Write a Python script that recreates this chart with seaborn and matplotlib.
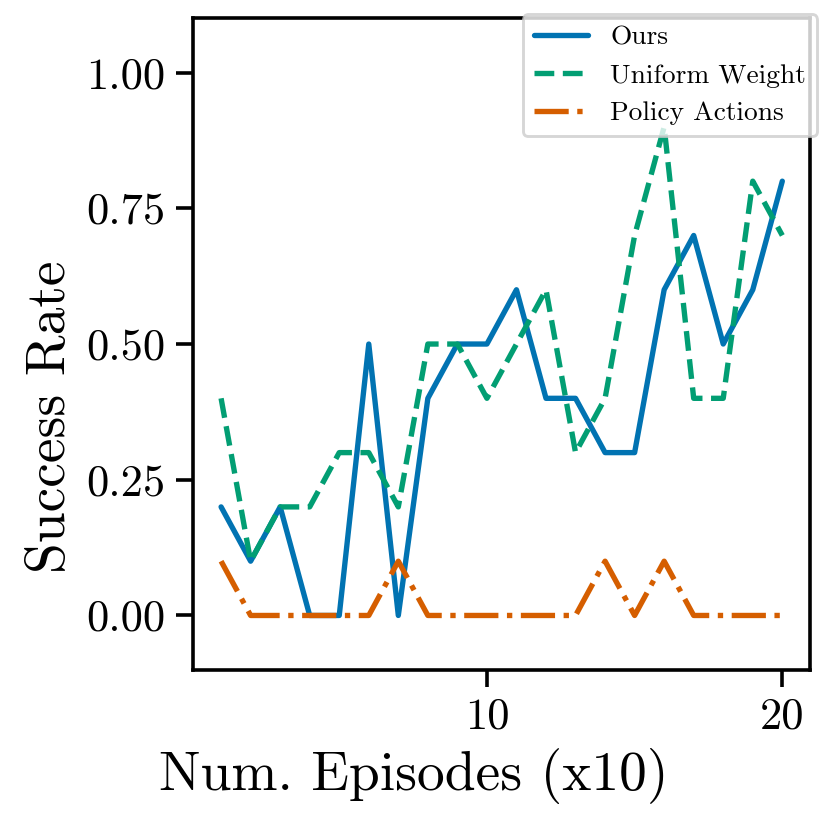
import numpy as np
import pandas as pd
import matplotlib
matplotlib.use("Agg")
import matplotlib.pyplot as plt
import seaborn as sns

episodes = list(range(1, 21))
ours = [0.2, 0.1, 0.2, 0.0, 0.0, 0.5, 0.0, 0.4, 0.5, 0.5, 0.6, 0.4, 0.4, 0.3, 0.3, 0.6, 0.7, 0.5, 0.6, 0.8]
uniform = [0.4, 0.1, 0.2, 0.2, 0.3, 0.3, 0.2, 0.5, 0.5, 0.4, 0.5, 0.6, 0.3, 0.4, 0.7, 0.9, 0.4, 0.4, 0.8, 0.7]
policy = [0.1, 0.0, 0.0, 0.0, 0.0, 0.0, 0.1, 0.0, 0.0, 0.0, 0.0, 0.0, 0.0, 0.1, 0.0, 0.1, 0.0, 0.0, 0.0, 0.0]
labels = ["Ours", "Uniform Weight", "Policy Actions"]
yticks = [0.0, 0.25, 0.5, 0.75, 1.0]
xticks = [10, 20]

sns.set_theme(style="ticks", palette="colorblind")
plt.rcParams["font.family"] = ["cmr10", "DejaVu Serif"]
plt.rcParams["mathtext.fontset"] = "cm"
plt.rcParams["axes.formatter.use_mathtext"] = True
for k in ["text.color", "axes.labelcolor", "xtick.color", "ytick.color", "axes.edgecolor"]:
    plt.rcParams[k] = "black"

pal = sns.color_palette("colorblind")
colors = [pal[0], pal[2], pal[3]]
styles = ["-", "--", "-."]

fig = plt.figure(figsize=(4, 4), dpi=208)
ax = fig.add_axes([0.232, 0.195, 0.742, 0.783])

for vals, lab, col, ls in zip([ours, uniform, policy], labels, colors, styles):
    df = pd.DataFrame({"x": episodes, "y": vals})
    sns.lineplot(data=df, x="x", y="y", ax=ax, color=col, linestyle=ls,
                 linewidth=1.85, label=lab)

ax.set_ylim(-0.1, 1.1)
ax.set_xticks(xticks)
ax.set_xticklabels([str(t) for t in xticks])
ax.set_yticks(yticks)
ax.set_yticklabels(["%.2f" % t for t in yticks])
ax.tick_params(labelsize=15.4, colors="black")
ax.set_xlabel("Num. Episodes (x10)", fontsize=19.2)
ax.set_ylabel("Success Rate", fontsize=19.2)
ax.xaxis.set_label_coords(0.358, -0.12)
ax.yaxis.set_label_coords(-0.19, 0.388)
for s in ax.spines.values():
    s.set_color("black")
leg = ax.legend(loc="upper right", bbox_to_anchor=(1.011, 1.006), borderaxespad=0,
                fontsize=9.5, frameon=True)

fig.savefig("out.png", dpi=208)
